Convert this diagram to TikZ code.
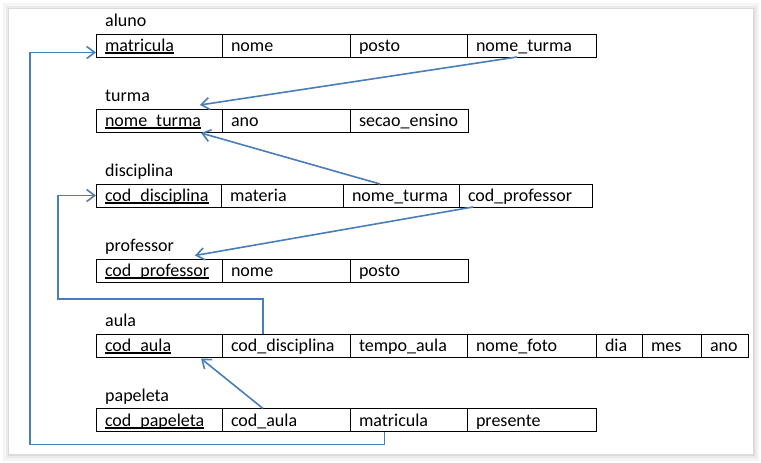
\documentclass[tikz,border=0pt]{standalone}
\usepackage{fontspec}
\setmainfont{Carlito}
\usetikzlibrary{positioning,calc,arrows.meta}
\definecolor{azul}{RGB}{74,126,187}
\newcommand{\chave}[1]{\setbox0=\hbox{#1}\rlap{\rule[-2.4pt]{\wd0}{1.8pt}}\box0}
\tikzset{
  campo/.style={draw, line width=1pt, minimum height=23pt, inner xsep=9pt, inner ysep=0pt,
                outer sep=0pt, text height=12.5pt, text depth=0pt, align=left,
                font=\fontsize{18}{20}\selectfont},
  tabela/.style={anchor=base west, inner sep=0pt, font=\fontsize{18}{20}\selectfont},
  seta/.style={draw=azul, line width=1.6pt, -{Straight Barb[length=8pt,width=12pt]}}
}

\begin{document}
\begin{tikzpicture}[x=1pt, y=-1pt]
      \useasboundingbox (0, 0) rectangle (761, 463);
      \fill [white] (0, 0) rectangle (761, 463);
      \fill [black!4] (3, 3) rectangle (759, 461);
      \fill [black!8] (6, 6) rectangle (757, 458);
      \fill [black!14] (8, 8) rectangle (755, 456);
      \fill [white] (9, 9) rectangle (753, 454);

      \node (taluno) [tabela] at (105, 26.5) {aluno};
      \node (al1) [campo, text width=108pt, anchor=west] at (96, 45.5) {\chave{matricula}};
      \node (al2) [campo, text width=110pt, right=0pt of al1] {nome};
      \node (al3) [campo, text width=99pt, right=0pt of al2] {posto};
      \node (al4) [campo, text width=111pt, right=0pt of al3] {nome\_turma};

      \node (tturma) [tabela] at (105, 101.5) {turma};
      \node (tu1) [campo, text width=108pt, anchor=west] at (96, 120.5) {\chave{nome\_turma}};
      \node (tu2) [campo, text width=110pt, right=0pt of tu1] {ano};
      \node (tu3) [campo, text width=100pt, right=0pt of tu2] {secao\_ensino};

      \node (tdisciplina) [tabela] at (105, 176.5) {disciplina};
      \node (di1) [campo, text width=107pt, anchor=west] at (96, 195.5) {\chave{cod\_disciplina}};
      \node (di2) [campo, text width=104pt, right=0pt of di1] {materia};
      \node (di3) [campo, text width=98pt, right=0pt of di2] {nome\_turma};
      \node (di4) [campo, text width=115pt, right=0pt of di3] {cod\_professor};

      \node (tprofessor) [tabela] at (105, 251.5) {professor};
      \node (pr1) [campo, text width=108pt, anchor=west] at (96, 270.5) {\chave{cod\_professor}};
      \node (pr2) [campo, text width=110pt, right=0pt of pr1] {nome};
      \node (pr3) [campo, text width=100pt, right=0pt of pr2] {posto};

      \node (taula) [tabela] at (105, 326.5) {aula};
      \node (au1) [campo, text width=108pt, anchor=west] at (96, 345.5) {\chave{cod\_aula}};
      \node (au2) [campo, text width=110pt, right=0pt of au1] {cod\_disciplina};
      \node (au3) [campo, text width=99pt, right=0pt of au2] {tempo\_aula};
      \node (au4) [campo, text width=111pt, right=0pt of au3] {nome\_foto};
      \node (au5) [campo, text width=28pt, right=0pt of au4] {dia};
      \node (au6) [campo, text width=41pt, right=0pt of au5] {mes};
      \node (au7) [campo, text width=29pt, right=0pt of au6] {ano};

      \node (tpapeleta) [tabela] at (105, 401) {papeleta};
      \node (pa1) [campo, text width=108pt, anchor=west] at (96, 420) {\chave{cod\_papeleta}};
      \node (pa2) [campo, text width=110pt, right=0pt of pa1] {cod\_aula};
      \node (pa3) [campo, text width=99pt, right=0pt of pa2] {matricula};
      \node (pa4) [campo, text width=111pt, right=0pt of pa3] {presente};

      \coordinate (dobra1) at (58, 299);
      \coordinate (dobra2) at (30, 444.5);
      \draw [seta] ($(al4.south west)+(50,0)$) -- ($(tu1.north east)+(-22,-4)$);
      \draw [seta] ($(di3.north west)+(37,0)$) -- ($(tu1.south east)+(-21,1)$);
      \draw [seta] ($(di4.south west)+(14,0)$) -- ($(pr1.north east)+(-27,-3.5)$);
      \draw [seta] ($(au2.north west)+(41,0)$) |- (dobra1) |- (di1.west);
      \draw [seta] ($(pa2.north west)+(41,0)$) -- ($(au1.south east)+(-21,1.5)$);
      \draw [seta] ($(pa3.south west)+(34.5,0)$) |- (dobra2) |- ($(al1.west)+(0,7)$);
\end{tikzpicture}
\end{document}
